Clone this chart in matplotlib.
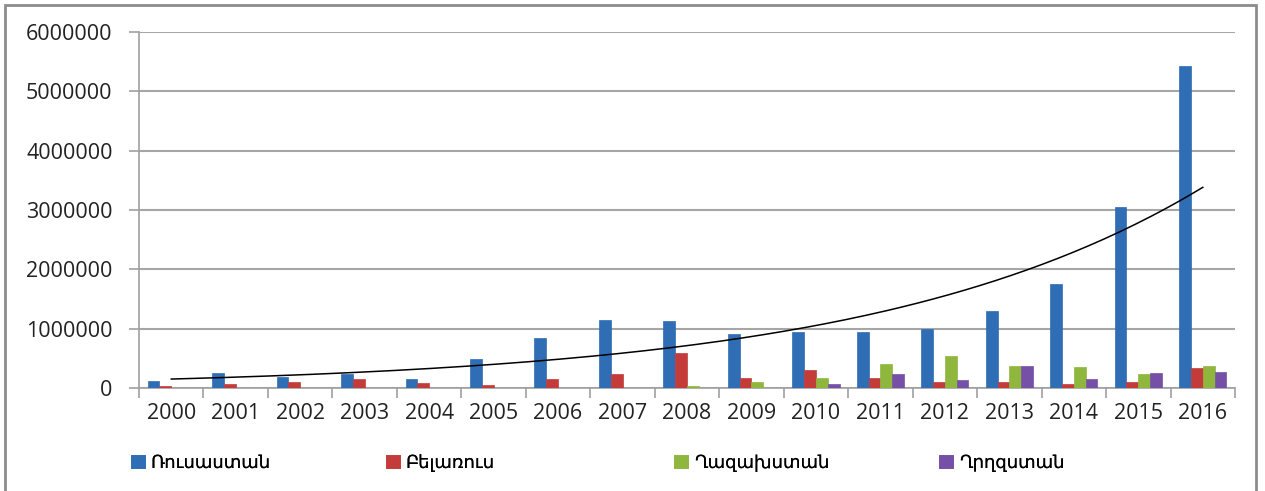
import matplotlib.pyplot as plt
import numpy as np
from matplotlib.patches import Rectangle

years = [str(y) for y in range(2000, 2017)]

russia     = [120000, 255000, 190000, 230000, 150000, 490000, 850000, 1150000, 1130000,
              910000, 940000, 940000, 990000, 1300000, 1750000, 3050000, 5430000]
belarus    = [34000, 74000, 100000, 150000, 80000, 50000, 150000, 230000, 585000,
              170000, 300000, 170000, 100000, 100000, 74000, 100000, 340000]
kazakhstan = [0, 0, 0, 0, 0, 0, 0, 5000, 40000,
              100000, 170000, 400000, 540000, 375000, 360000, 230000, 375000]
kyrgyzstan = [0, 0, 0, 0, 0, 0, 0, 0, 0,
              0, 74000, 230000, 140000, 375000, 160000, 255000, 270000]

names  = ["Ռուսաստան", "Բելառուս", "Ղազախստան", "Ղրղզստան"]
series = [russia, belarus, kazakhstan, kyrgyzstan]
colors = ["#2f6db5", "#c33c3a", "#8fb73e", "#7650a6"]

plt.rcParams['font.family'] = ['Open Sans', 'DejaVu Sans']

fig = plt.figure(figsize=(12.65, 4.91), dpi=100)
ax = fig.add_axes([139/1265, 1-388/491, (1235-139)/1265, (388-32)/491])

x = np.arange(len(years))
w = 0.183
bars = []
for i, (vals, c, n) in enumerate(zip(series, colors, names)):
    bars.append(ax.bar(x + (i - 1.5)*w, vals, width=w, color=c, edgecolor=c,
                       linewidth=0.5, label=n, zorder=3))

# exponential trendline on Russia (Excel-style log-linear fit)
k, b = np.polyfit(x + 1, np.log(russia), 1)
xt = np.linspace(0, len(years) - 1, 200)
ax.plot(xt, np.exp(b + k*(xt + 1)), color="black", linewidth=1.1, zorder=4)

ax.set_xlim(-0.5, len(years) - 0.5)
ax.set_ylim(0, 6000000)
ax.set_yticks(range(0, 6000001, 1000000))
ax.set_yticklabels([str(v) for v in range(0, 6000001, 1000000)])
ax.set_xticks(x)
ax.set_xticklabels(years)
ax.set_xticks(np.arange(-0.5, len(years)), minor=True)
ax.tick_params(axis='x', which='major', length=0, pad=11, labelsize=15.5, colors='#222222')
ax.tick_params(axis='x', which='minor', length=7, color='#a0a0a0', width=1.2)
ax.tick_params(axis='y', length=7, color='#a0a0a0', width=1.2, pad=12, labelsize=15.5,
               labelcolor='#222222')

ax.grid(axis='y', color='#a6a6a6', linewidth=1.5, zorder=0)
for s in ['top', 'right']:
    ax.spines[s].set_visible(False)
for s in ['left', 'bottom']:
    ax.spines[s].set_color('#a0a0a0')
    ax.spines[s].set_linewidth(1.2)

# legend entries placed like the original (one per country)
leg_x = [131, 386, 674, 939]
for bc, n, lx in zip(bars, names, leg_x):
    lg = fig.legend([bc], [n], loc='center left', bbox_to_anchor=(lx/1265, 1-463/491),
                    frameon=False, fontsize=13, handlelength=0.75, handleheight=0.75,
                    handletextpad=0.35, borderpad=0, borderaxespad=0)
    fig.add_artist(lg)

fig.patches.append(Rectangle((5/1265, -0.05), 1251/1265, 1 - 5/491 + 0.05,
                             transform=fig.transFigure, fill=False,
                             edgecolor='#8c8c8c', linewidth=2))

fig.savefig("out.png", dpi=100)
